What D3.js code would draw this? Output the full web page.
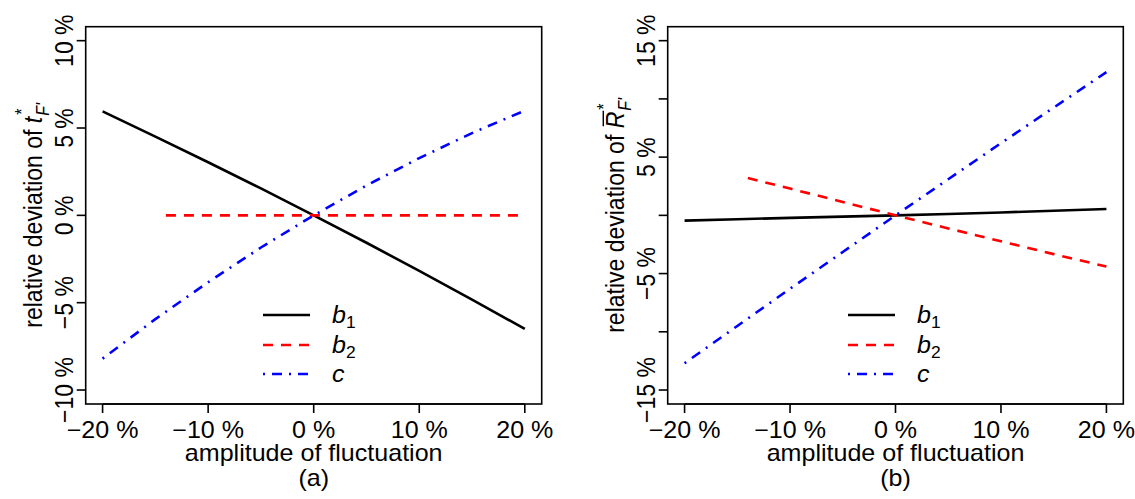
<!DOCTYPE html>
<html>
<head>
<meta charset="utf-8">
<script src="https://cdn.jsdelivr.net/npm/d3@7"></script>
<style>
  body { margin: 0; background: #fff; }
  svg text { font-family: "Liberation Sans", Arial, sans-serif; fill: #000; }
</style>
</head>
<body>
<svg id="chart" width="1135" height="499"></svg>
<script>
// amplitude of fluctuation (%)
var ampl = [-20, -15, -10, -5, 0, 5, 10, 15, 20];
var amplB2 = [-14, -10, -5, 0, 5, 10, 15, 20];
var xTicks = [-20, -10, 0, 10, 20];

// panel (a): relative deviation of t*_F' (%)
var aB1 = [5.95, 4.51, 3.04, 1.54, 0, -1.57, -3.18, -4.82, -6.5];
var aB2 = [0, 0, 0, 0, 0, 0, 0, 0];
var aC  = [-8.2, -5.94, -3.83, -1.84, 0, 1.71, 3.28, 4.71, 6.0];
var aTicks = [-10, -5, 0, 5, 10];
var aTickLabels = [-10, -5, 0, 5, 10];

// panel (b): relative deviation of R*_F' (%)
var bB1 = [-0.45, -0.33, -0.22, -0.11, 0, 0.12, 0.25, 0.39, 0.55];
var bB2 = [3.2, 2.3, 1.15, 0, -1.12, -2.23, -3.33, -4.4];
var bC  = [-12.7, -9.5, -6.3, -3.15, 0, 3.1, 6.2, 9.25, 12.3];
var bTicks = [-15, -10, -5, 0, 5, 10, 15];
var bTickLabels = [-15, -5, 5, 15];

var legendNames = ["b", "b", "c"];
var legendSubs = ["1", "2", ""];

var SX = 1.09;   // the reference text is a bit wider than tall
var FS = 23;

var svg = d3.select("#chart");

function fmt(v) {
  return (v < 0 ? "\u2212" + Math.abs(v) : "" + v) + " %";
}

// text placed in its own group so it can be stretched horizontally
function label(x, y, rot) {
  var g = svg.append("g")
    .attr("transform", rot
      ? "translate(" + x + "," + y + ") rotate(-90) scale(1," + SX + ")"
      : "translate(" + x + "," + y + ") scale(" + SX + ",1)");
  return g;
}

function panel(opt) {
  var x = d3.scaleLinear().domain([-21.6, 21.6]).range([opt.left, opt.right]);
  var y = d3.scaleLinear().domain(opt.ydom).range([404, 26.7]);

  var line = d3.line().x(function(d) { return x(d[0]); }).y(function(d) { return y(d[1]); });

  var series = [
    { xs: ampl, ys: opt.b1, color: "#000", dash: null },
    { xs: amplB2, ys: opt.b2, color: "#ff0000", dash: "10,8" },
    { xs: ampl, ys: opt.c, color: "#0000ff", dash: "2,7,10,7" }
  ];

  series.forEach(function(s) {
    svg.append("path")
      .datum(s.xs.map(function(v, i) { return [v, s.ys[i]]; }))
      .attr("d", line)
      .attr("fill", "none")
      .attr("stroke", s.color)
      .attr("stroke-width", 2.6)
      .attr("stroke-dasharray", s.dash);
  });

  // box
  svg.append("rect")
    .attr("x", opt.left).attr("y", 26.7)
    .attr("width", opt.right - opt.left).attr("height", 404 - 26.7)
    .attr("fill", "none").attr("stroke", "#000").attr("stroke-width", 1.6);

  // x axis
  xTicks.forEach(function(t) {
    svg.append("line")
      .attr("x1", x(t)).attr("x2", x(t)).attr("y1", 404).attr("y2", 413)
      .attr("stroke", "#000").attr("stroke-width", 1.6);
    label(x(t), 438, false).append("text")
      .attr("text-anchor", "middle").attr("font-size", FS).text(fmt(t));
  });
  svg.append("line")
    .attr("x1", x(-20)).attr("x2", x(20)).attr("y1", 404).attr("y2", 404)
    .attr("stroke", "#000").attr("stroke-width", 1.6);

  // y axis
  opt.yticks.forEach(function(t) {
    svg.append("line")
      .attr("x1", opt.left).attr("x2", opt.left - 9).attr("y1", y(t)).attr("y2", y(t))
      .attr("stroke", "#000").attr("stroke-width", 1.6);
  });
  opt.ylabels.forEach(function(t) {
    label(opt.left - 12.7, y(t), true).append("text")
      .attr("text-anchor", "middle").attr("font-size", FS).text(fmt(t));
  });

  // axis titles
  var cx = (opt.left + opt.right) / 2;
  label(cx, 460.5, false).append("text")
    .attr("text-anchor", "middle").attr("font-size", FS).text("amplitude of fluctuation");
  label(cx, 486, false).append("text")
    .attr("text-anchor", "middle").attr("font-size", FS).text(opt.tag);

  // y title with sub/superscripts
  var g = label(opt.left - 43.7, 215.35, true);
  var inner = g.append("g");
  var tx = inner.append("text").attr("font-size", FS);
  tx.append("tspan").text("relative deviation of ");
  tx.append("tspan").attr("font-style", "italic").text(opt.sym);
  var w = tx.node().getComputedTextLength();
  var sub = inner.append("text").attr("font-size", 16).attr("font-style", "italic")
    .attr("x", w + 1).attr("y", 6).text("F'");
  inner.append("text").attr("font-size", 16)
    .attr("x", w + 2).attr("y", -13).text("*");
  if (opt.bar) {
    var rw = 0.722 * FS;
    inner.append("line")
      .attr("x1", w - rw + 2).attr("x2", w + 1).attr("y1", -19).attr("y2", -19)
      .attr("stroke", "#000").attr("stroke-width", 1.3);
  }
  var total = w + sub.node().getComputedTextLength() + 1;
  inner.attr("transform", "translate(" + (-total / 2) + ",0)");

  // legend
  var rows = [315, 345, 374];
  series.forEach(function(s, i) {
    svg.append("line")
      .attr("x1", opt.legX).attr("x2", opt.legX + 47)
      .attr("y1", rows[i]).attr("y2", rows[i])
      .attr("stroke", s.color).attr("stroke-width", 2.6)
      .attr("stroke-dasharray", s.dash);
    var lt = label(opt.legX + 69, rows[i] + 8, false).append("text").attr("font-size", FS);
    lt.append("tspan").attr("font-style", "italic").text(legendNames[i]);
    if (legendSubs[i]) {
      lt.append("tspan").attr("font-size", 16).attr("dy", 5).text(legendSubs[i]);
    }
  });
}

panel({
  left: 85.7, right: 541.7, ydom: [-10.8, 10.8],
  b1: aB1, b2: aB2, c: aC,
  yticks: aTicks, ylabels: aTickLabels,
  tag: "(a)", sym: "t", bar: false, legX: 263
});

panel({
  left: 667.7, right: 1123.3, ydom: [-16.2, 16.2],
  b1: bB1, b2: bB2, c: bC,
  yticks: bTicks, ylabels: bTickLabels,
  tag: "(b)", sym: "R", bar: true, legX: 848
});
</script>
</body>
</html>
